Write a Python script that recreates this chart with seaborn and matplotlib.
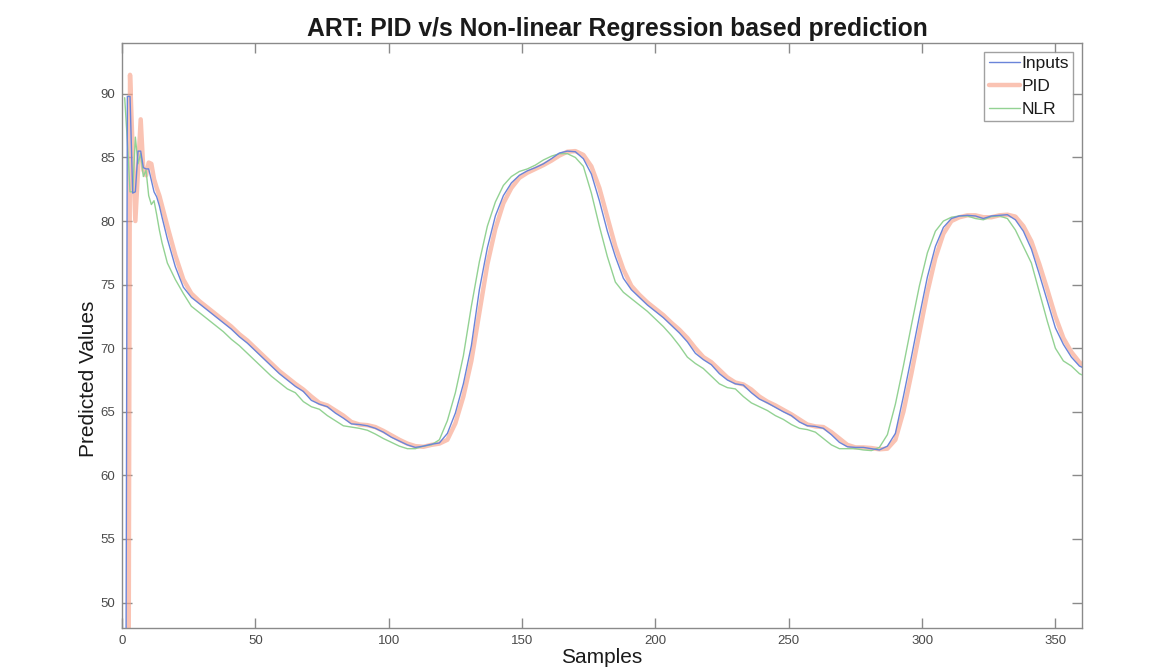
import numpy as np
import pandas as pd
import matplotlib
matplotlib.use("Agg")
import matplotlib.pyplot as plt
import seaborn as sns

# ---- data ----
samples = list(range(1, 16)) + list(range(17, 360, 3)) + [360]

inputs = [0.0, 89.8, 89.8, 82.2, 82.3, 85.5, 85.5, 84.2, 84.1, 84.1, 83.2, 82.3, 81.9, 81.2, 80.3,
          78.6, 76.4, 74.8, 74.0, 73.5, 73.0, 72.5, 72.0, 71.5, 70.9, 70.4, 69.8, 69.2, 68.6, 68.0,
          67.5, 67.0, 66.6, 65.9, 65.6, 65.4, 64.9, 64.5, 64.05, 64.0, 63.9, 63.7, 63.4, 63.0, 62.7,
          62.4, 62.2, 62.3, 62.45, 62.55, 63.3, 64.9, 67.2, 70.2, 74.6, 77.9, 80.4, 82.0, 83.0, 83.6,
          83.95, 84.2, 84.5, 84.9, 85.35, 85.5, 85.45, 84.9, 83.7, 81.6, 79.2, 77.2, 75.5, 74.6, 74.0,
          73.4, 72.9, 72.4, 71.8, 71.2, 70.5, 69.6, 69.1, 68.7, 68.0, 67.5, 67.2, 67.1, 66.5, 66.0,
          65.7, 65.35, 65.0, 64.7, 64.2, 63.9, 63.85, 63.7, 63.2, 62.6, 62.25, 62.2, 62.2, 62.1, 62.0,
          62.3, 63.3, 66.2, 69.3, 72.5, 75.6, 78.0, 79.5, 80.2, 80.4, 80.45, 80.4, 80.2, 80.4, 80.45,
          80.5, 80.1, 79.2, 77.8, 75.8, 73.7, 71.6, 70.3, 69.3, 68.6, 68.5]

pid = [0.0, 0.0, 91.5, 85.5, 80.0, 84.0, 88.0, 84.0, 83.6, 84.6, 84.5, 83.3, 82.6, 82.0, 81.2,
       79.6, 77.3, 75.4, 74.3, 73.7, 73.2, 72.7, 72.2, 71.7, 71.1, 70.6, 70.0, 69.4, 68.8, 68.2,
       67.7, 67.2, 66.75, 66.2, 65.7, 65.5, 65.1, 64.7, 64.2, 64.0, 63.95, 63.8, 63.5, 63.15, 62.8,
       62.5, 62.3, 62.25, 62.4, 62.5, 62.8, 64.1, 66.2, 69.0, 72.8, 76.6, 79.4, 81.4, 82.6, 83.4,
       83.8, 84.1, 84.4, 84.75, 85.15, 85.45, 85.5, 85.2, 84.3, 82.6, 80.3, 78.0, 76.2, 74.9, 74.2,
       73.6, 73.1, 72.6, 72.0, 71.45, 70.8, 70.0, 69.3, 68.9, 68.3, 67.7, 67.3, 67.15, 66.75, 66.2,
       65.8, 65.5, 65.15, 64.8, 64.4, 64.0, 63.85, 63.8, 63.4, 62.9, 62.4, 62.2, 62.2, 62.15, 62.05,
       62.1, 62.8, 65.0, 68.0, 71.2, 74.4, 77.1, 79.0, 80.0, 80.3, 80.45, 80.45, 80.3, 80.3, 80.45,
       80.5, 80.35, 79.6, 78.4, 76.6, 74.6, 72.5, 70.8, 69.7, 68.9, 68.7]

nlr = [89.7, 86.3, 82.3, 82.3, 86.6, 84.5, 85.3, 83.5, 84.0, 82.0, 81.3, 81.6, 80.5, 79.3, 78.3,
       76.7, 75.4, 74.3, 73.3, 72.8, 72.3, 71.8, 71.3, 70.7, 70.2, 69.6, 69.0, 68.4, 67.8, 67.3,
       66.8, 66.5, 65.8, 65.4, 65.2, 64.7, 64.3, 63.9, 63.8, 63.7, 63.55, 63.25, 62.9, 62.6, 62.3,
       62.1, 62.1, 62.3, 62.4, 62.8, 64.3, 66.5, 69.4, 73.3, 76.8, 79.6, 81.5, 82.8, 83.5, 83.9,
       84.1, 84.4, 84.8, 85.1, 85.3, 85.3, 85.0, 84.3, 82.2, 79.6, 77.2, 75.2, 74.4, 73.9, 73.4,
       72.9, 72.3, 71.7, 71.0, 70.2, 69.3, 68.8, 68.4, 67.8, 67.2, 66.9, 66.8, 66.2, 65.7, 65.4,
       65.1, 64.7, 64.4, 64.0, 63.7, 63.6, 63.4, 62.9, 62.4, 62.1, 62.1, 62.1, 62.0, 61.95, 62.2,
       63.2, 65.6, 68.6, 71.8, 74.9, 77.5, 79.2, 80.0, 80.3, 80.4, 80.4, 80.2, 80.1, 80.35, 80.4,
       80.2, 79.3, 78.0, 76.7, 74.4, 72.1, 70.0, 69.0, 68.6, 68.0, 67.9]

series_names = ["Inputs", "PID", "NLR"]
x_ticks = [0, 50, 100, 150, 200, 250, 300, 350]
y_ticks = [50, 55, 60, 65, 70, 75, 80, 85, 90]

# ---- style ----
sns.set_style("white")
plt.rcParams["font.family"] = ["Liberation Sans", "DejaVu Sans"]

fig = plt.figure(figsize=(11.61, 6.68), dpi=100)
ax = fig.add_axes([0.1051, 0.0599, 0.8269, 0.8757])

colors = {"Inputs": "#6a84d9", "PID": "#f8a38b", "NLR": "#93d293"}

sns.lineplot(x=samples, y=inputs, ax=ax, color=colors["Inputs"], linewidth=1.0,
             label=series_names[0], zorder=4)
sns.lineplot(x=samples, y=pid, ax=ax, color=colors["PID"], linewidth=3.2, alpha=0.65,
             label=series_names[1], zorder=2)
sns.lineplot(x=samples, y=nlr, ax=ax, color=colors["NLR"], linewidth=1.0,
             label=series_names[2], zorder=3)

ax.set_xlim(0, 360)
ax.set_ylim(48, 94)
ax.set_xticks(x_ticks)
ax.set_yticks(y_ticks)

axis_gray = "#8a8a8a"
for sp in ax.spines.values():
    sp.set_color(axis_gray)
    sp.set_linewidth(1.0)
ax.tick_params(direction="in", length=7, width=1, colors=axis_gray,
               labelcolor="#4a4a4a", labelsize=9.5, top=True, right=True,
               bottom=True, left=True, pad=5)

ax.set_title("ART: PID v/s Non-linear Regression based prediction",
             fontsize=17.8, fontweight="bold", color="#1a1a1a", pad=5, x=0.516)
ax.set_xlabel("Samples", fontsize=15, color="#1a1a1a", labelpad=1)
ax.set_ylabel("Predicted Values", fontsize=15, color="#1a1a1a")
ax.yaxis.set_label_coords(-0.025, 0.4256)

leg = ax.legend(loc="upper right", fontsize=12.5, frameon=True, fancybox=False,
                borderpad=0.25, handlelength=1.8, handletextpad=0.1,
                labelspacing=0.45, borderaxespad=0.5)
leg.get_frame().set_edgecolor(axis_gray)
leg.get_frame().set_linewidth(1.0)
for t in leg.get_texts():
    t.set_color("#1a1a1a")

fig.savefig("out.png", dpi=100, facecolor="white")
